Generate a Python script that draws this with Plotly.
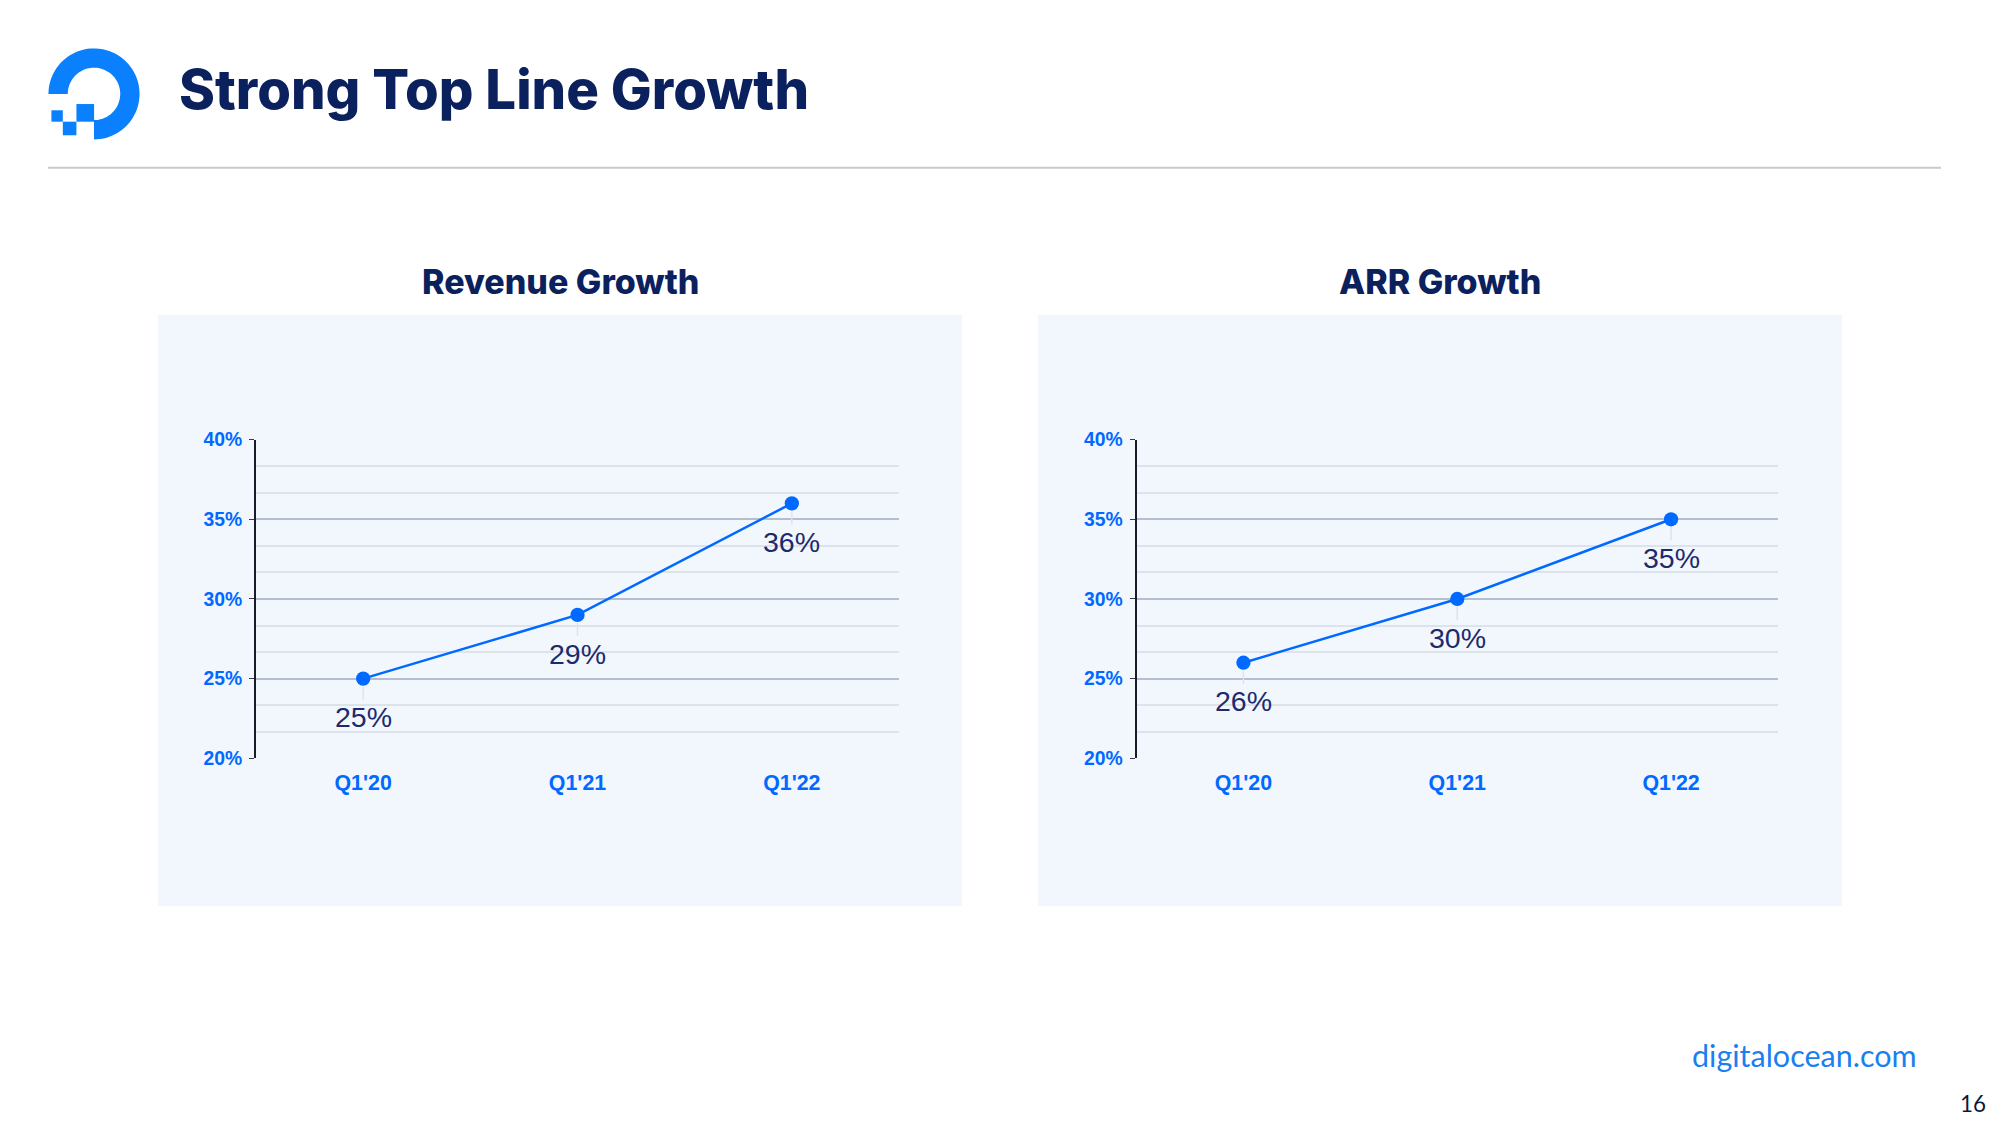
import numpy as np
import plotly.graph_objects as go

# ---------------- data ----------------
quarters = ["Q1'20", "Q1'21", "Q1'22"]
revenue_growth = [25, 29, 36]
arr_growth = [26, 30, 35]
chart_titles = ["Revenue Growth", "ARR Growth"]
y_tick_vals = [20, 25, 30, 35, 40]
y_tick_text = ["20%", "25%", "30%", "35%", "40%"]
page_title = "Strong Top Line Growth"
footer_text = "digitalocean.com"
page_number = "16"

W, H = 2000, 1125          # reference frame
FIG_H = 1146               # figure height (compensates capture scaling)
TOP_SHIFT = -9.6           # page offset of the figure (px)
K = 1.018                  # size compensation
BLUE = "#0069ff"
LOGO_BLUE = "#0a80ff"
NAVY = "#0b215e"
LABEL_NAVY = "#1c2b6e"
PANEL = "#f2f7fd"


def px(x):
    return x / W


def py(y):
    return 1 - y / H


fig = go.Figure()

series = [revenue_growth, arr_growth]
x_domains = [[256 / W, 899 / W], [1136.5 / W, 1778 / W]]
y_domain = [1 - 758 / H, 1 - 439 / H]
panels = [(158, 962), (1038, 1842)]

shapes = []
annotations = []

for i, vals in enumerate(series):
    xa = "x" if i == 0 else "x2"
    ya = "y" if i == 0 else "y2"
    fig.add_trace(go.Scatter(
        x=quarters, y=vals, mode="lines+markers",
        line=dict(color=BLUE, width=2.5),
        marker=dict(size=14 * K, color=BLUE),
        xaxis=xa, yaxis=ya, showlegend=False, hoverinfo="skip",
    ))
    for q, v in zip(quarters, vals):
        annotations.append(dict(
            x=q, y=v, xref=xa, yref=ya, text=f"{v}%",
            showarrow=True, ax=0, ay=38 * K, arrowhead=0, arrowwidth=1.5,
            arrowcolor="#dde3ea", standoff=8,
            font=dict(family="Liberation Sans, Arial, sans-serif", size=28 * K, color=LABEL_NAVY),
        ))
    x0, x1 = panels[i]
    shapes.append(dict(type="rect", xref="paper", yref="paper",
                       x0=px(x0), x1=px(x1), y0=py(906), y1=py(314),
                       fillcolor=PANEL, line=dict(width=0), layer="below"))
    annotations.append(dict(
        x=px((x0 + x1) / 2), y=py(281), xref="paper", yref="paper",
        text=chart_titles[i], showarrow=False, xanchor="center", yanchor="middle",
        font=dict(family="Inter, sans-serif", size=34, color=NAVY, weight=800),
    ))

axis_common_x = dict(
    type="category", range=[-0.5, 2.5], showgrid=False, showline=False,
    zeroline=False, ticks="", ticklabelstandoff=9,
    tickfont=dict(family="Liberation Sans, Arial, sans-serif", size=21 * K, color=BLUE, weight=700),
)
axis_common_y = dict(
    range=[20, 40], tickvals=y_tick_vals, ticktext=y_tick_text,
    showline=True, linecolor="#1a1a2a", linewidth=2,
    ticks="outside", ticklen=5, tickcolor="#3a3a4a", tickwidth=1,
    showgrid=True, gridcolor="#b4bfcd", gridwidth=1.5, zeroline=False,
    minor=dict(tick0=20, dtick=5 / 3, showgrid=True, gridcolor="#dce3eb", gridwidth=2, ticks=""),
    tickfont=dict(family="Liberation Sans, Arial, sans-serif", size=19 * K, color=BLUE, weight=700),
    ticklabelstandoff=3,
)

fig.update_layout(
    xaxis=dict(domain=x_domains[0], anchor="y", **axis_common_x),
    xaxis2=dict(domain=x_domains[1], anchor="y2", **axis_common_x),
    yaxis=dict(domain=y_domain, anchor="x", **axis_common_y),
    yaxis2=dict(domain=y_domain, anchor="x2", **axis_common_y),
)

# ---------------- logo (decorative) ----------------
S, OX, OY = 0.92, 48, 47


def lp(u, v):
    return px(OX + S * u), py(OY + S * v)


theta = np.linspace(np.pi, 2.5 * np.pi, 80)
outer = [(50 + 49.5 * np.cos(t), 50 + 49.5 * np.sin(t)) for t in theta]
inner = [(50 + 28.5 * np.cos(t), 50 + 28.5 * np.sin(t)) for t in theta[::-1]]
pts = [lp(u, v) for u, v in outer + inner]
path = "M " + " L ".join(f"{a:.5f},{b:.5f}" for a, b in pts) + " Z"
shapes.append(dict(type="path", xref="paper", yref="paper", path=path,
                   fillcolor=LOGO_BLUE, line=dict(width=0)))
for (u0, v0, u1, v1) in [(30.9, 61, 50.1, 80.2), (16.1, 80.2, 30.9, 95), (3.7, 67.8, 16.1, 80.2)]:
    a0, b0 = lp(u0, v0)
    a1, b1 = lp(u1, v1)
    shapes.append(dict(type="rect", xref="paper", yref="paper",
                       x0=a0, x1=a1, y0=b1, y1=b0,
                       fillcolor=LOGO_BLUE, line=dict(width=0)))

# separator line
shapes.append(dict(type="line", xref="paper", yref="paper",
                   x0=px(48), x1=px(1941), y0=py(167), y1=py(167),
                   line=dict(color="#c9c9c9", width=2)))

annotations.append(dict(
    x=px(177), y=py(88), xref="paper", yref="paper", text=page_title,
    showarrow=False, xanchor="left", yanchor="middle",
    font=dict(family="Inter, sans-serif", size=54.5, color=NAVY, weight=800),
))
annotations.append(dict(
    x=px(1919), y=py(1055), xref="paper", yref="paper", text=footer_text,
    showarrow=False, xanchor="right", yanchor="middle",
    font=dict(family="Lato, sans-serif", size=30.5, color="#1a80f0"),
))
annotations.append(dict(
    x=px(1988), y=py(1103), xref="paper", yref="paper", text=page_number,
    showarrow=False, xanchor="right", yanchor="middle",
    font=dict(family="Lato, sans-serif", size=22 * K, color="#0b1a3c"),
))

fig.update_layout(
    width=W, height=FIG_H, margin=dict(l=0, r=0, t=0, b=0),
    paper_bgcolor="white", plot_bgcolor="rgba(0,0,0,0)",
    shapes=shapes, annotations=annotations, showlegend=False,
)

post = (
    "document.documentElement.style.margin='0';"
    "document.body.style.margin='0';document.body.style.padding='0';"
    "document.documentElement.style.overflow='hidden';document.body.style.overflow='hidden';"
    "var g=document.getElementById('{plot_id}');"
    "g.style.position='fixed';g.style.top='" + str(TOP_SHIFT) + "px';g.style.left='0px';"
)

fig.write_html(
    "out.html",
    config={"displayModeBar": False, "responsive": False},
    post_script=post,
)
